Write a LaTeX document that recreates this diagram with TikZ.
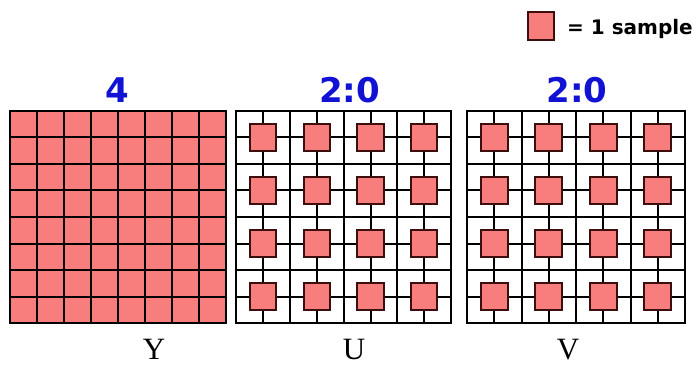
\documentclass[tikz,border=0pt]{standalone}
\usepackage{fontspec}
\setmainfont{Liberation Serif}
\newfontfamily\ratiofont{DejaVu Sans}
\definecolor{samplered}{RGB}{248,126,126}
\definecolor{sampleedge}{RGB}{60,14,14}
\definecolor{ratioblue}{RGB}{18,18,212}
\tikzset{
  gridline/.style={line width=2pt,black},
  samplebox/.style={fill=samplered,draw=sampleedge,line width=2pt},
  ratio/.style={anchor=base,inner sep=0pt,text=ratioblue,font=\ratiofont\bfseries\fontsize{34}{34}\selectfont},
  plane/.style={anchor=base,inner sep=0pt,font=\fontsize{31}{31}\selectfont},
}
\begin{document}
\begin{tikzpicture}[x=1pt,y=-1pt]
\useasboundingbox (0,0) rectangle (696,366);
\fill[white] (0,0) rectangle (696,366);

\filldraw[samplebox] (528,12) rectangle (554,40);
\node[anchor=base west,inner sep=0pt,font=\ratiofont\bfseries\fontsize{20}{20}\selectfont] (legend) at (567,35) {= 1 sample};

\node[ratio] (lumaratio) at (117.5,103) {4};
\node[ratio] (uratio) at (349.5,103) {2:0};
\node[ratio] (vratio) at (577,103) {2:0};

\begin{scope}[shift={(10,111)},x=27pt,y=-26.5pt]
\fill[samplered] (0,0) rectangle (8,8);
\foreach \k in {1,...,7} {
  \draw[gridline] (\k,0) -- (\k,8);
  \draw[gridline] (0,\k) -- (8,\k);
}
\draw[gridline] (0,0) rectangle (8,8);
\end{scope}

\begin{scope}[shift={(236,111)},x=26.9pt,y=-26.5pt]
\foreach \k in {1,...,7} {
  \draw[gridline] (\k,0) -- (\k,8);
  \draw[gridline] (0,\k) -- (8,\k);
}
\draw[gridline] (0,0) rectangle (8,8);
\foreach \i in {1,3,5,7}
  \foreach \j in {1,3,5,7}
    \filldraw[samplebox] (\i-0.49,\j-0.5) rectangle (\i+0.49,\j+0.5);
\end{scope}

\begin{scope}[shift={(467,111)},x=27.25pt,y=-26.5pt]
\foreach \k in {1,...,7} {
  \draw[gridline] (\k,0) -- (\k,8);
  \draw[gridline] (0,\k) -- (8,\k);
}
\draw[gridline] (0,0) rectangle (8,8);
\foreach \i in {1,3,5,7}
  \foreach \j in {1,3,5,7}
    \filldraw[samplebox] (\i-0.49,\j-0.5) rectangle (\i+0.49,\j+0.5);
\end{scope}

\node[plane] (ylabel) at (154,359) {Y};
\node[plane] (ulabel) at (354,359) {U};
\node[plane] (vlabel) at (568,359) {V};
\end{tikzpicture}
\end{document}
